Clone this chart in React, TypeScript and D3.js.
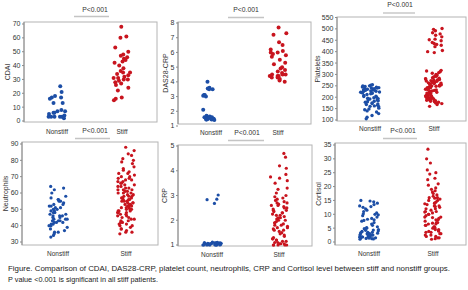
import React from "react";
import * as d3 from "d3";

// ---------- data ----------
const groups = ["Nonstiff", "Stiff"];

const cdaiNonstiff = [25, 21, 18, 17, 17, 16, 13, 13, 8, 7, 7, 6, 6, 5, 4, 3, 3, 3, 3, 3, 2];
const cdaiStiff = [68, 61, 60, 53, 50, 48, 47, 46, 45, 44, 43, 42, 40, 38, 36, 35, 35, 34, 33, 32, 31, 31, 30, 30, 29, 28, 27, 26, 24, 22, 17, 16, 15];
const cdaiTicks = [0, 10, 20, 30, 40, 50, 60, 70];

const dasNonstiff = [4.0, 3.6, 3.55, 3.5, 3.5, 3.1, 3.05, 3.0, 3.1, 2.1, 1.7, 1.65, 1.6, 1.6, 1.55, 1.5, 1.5, 1.45, 1.45, 1.4, 1.5, 1.6, 1.45];
const dasStiff = [7.7, 7.3, 7.2, 6.7, 6.5, 6.2, 6.1, 6.0, 6.0, 5.9, 5.8, 5.7, 5.5, 5.3, 5.2, 5.0, 4.9, 4.8, 4.7, 4.6, 4.5, 4.5, 4.5, 4.4, 4.4, 4.4, 4.3, 4.3, 4.2, 4.1, 4.0];
const dasTicks = [1, 2, 3, 4, 5, 6, 7, 8];

const pltNonstiff = [255, 253, 250, 249, 247, 245, 244, 242, 241, 240, 238, 237, 235, 234, 232, 231, 230, 228, 226, 225, 223, 222, 220, 219, 217, 215, 212, 208, 205, 203, 200, 198, 196, 194, 192, 190, 188, 185, 182, 180, 178, 175, 172, 170, 168, 165, 162, 160, 158, 152, 148, 145, 140, 135, 128, 120, 112, 105];
const pltStiff = [502, 498, 492, 483, 478, 472, 465, 455, 452, 448, 440, 436, 432, 428, 422, 405, 400, 396,
  318, 315, 312, 308, 305, 300, 298, 295, 292, 290, 288, 285, 283, 281, 280, 278, 276, 275, 273, 271, 270, 268, 266, 265, 263, 262, 260, 258, 257, 255, 254, 252, 250, 249, 248, 246, 245, 243, 242, 240, 238, 237, 235, 234, 232, 230, 228, 226, 225, 222, 220, 218, 215, 212, 210, 208, 206, 205, 203, 202, 200, 198, 197, 195, 193, 192, 190, 188, 187, 185, 183, 182, 180, 178, 175, 172, 168, 160];
const pltTicks = [100, 150, 200, 250, 300, 350, 400, 450, 500, 550];

const neuNonstiff = [64, 63, 62, 60, 58, 57, 56, 56, 55, 55, 54, 53, 53, 52, 52, 51, 51, 50, 50, 49, 49, 48, 48, 47, 47, 46, 46, 46, 45, 45, 44, 44, 44, 43, 43, 43, 42, 42, 42, 41, 41, 40, 40, 39, 38, 37, 36, 36, 35, 34, 33];
const neuStiff = [88, 86, 84, 83, 81, 80, 79, 78, 76, 75, 74, 73, 72, 72, 71, 70, 70, 69, 69, 68, 68, 67, 67, 66, 66, 65, 65, 64, 64, 63, 63, 62, 62, 62, 61, 61, 60, 60, 60, 59, 59, 58, 58, 58, 57, 57, 57, 56, 56, 56, 55, 55, 55, 54, 54, 54, 53, 53, 53, 52, 52, 52, 51, 51, 51, 50, 50, 50, 49, 49, 49, 48, 48, 48, 47, 47, 46, 46, 45, 45, 44, 44, 43, 43, 42, 42, 41, 41, 40, 40, 39, 38, 38, 37, 36, 36, 35];
const neuTicks = [30, 40, 50, 60, 70, 80, 90];

const crpNonstiff = [3.02, 2.85, 2.83, 2.68, 1.12, 1.11, 1.1, 1.1, 1.09, 1.09, 1.08, 1.08, 1.07, 1.07, 1.06, 1.06, 1.06, 1.05, 1.05, 1.05, 1.04, 1.04, 1.04, 1.03, 1.03, 1.03, 1.02, 1.02, 1.02, 1.01, 1.01, 1.01, 1.0, 1.0, 1.0, 1.0, 1.0, 1.0, 1.0, 1.0];
const crpStiff = [4.7, 4.55, 4.2, 4.1, 3.85, 3.75, 3.7, 3.6, 3.5, 3.3, 3.25, 3.1, 3.0, 2.95, 2.9, 2.85, 2.8, 2.75, 2.7, 2.7, 2.65, 2.6, 2.6, 2.55, 2.5, 2.5, 2.45, 2.4, 2.4, 2.35, 2.3, 2.3, 2.25, 2.2, 2.2, 2.15, 2.1, 2.1, 2.05, 2.0, 2.0, 1.95, 1.9, 1.9, 1.85, 1.8, 1.8, 1.75, 1.7, 1.7, 1.65, 1.6, 1.6, 1.55, 1.5, 1.45, 1.4, 1.35, 1.3, 1.25, 1.25, 1.2, 1.2, 1.15, 1.15, 1.1, 1.1, 1.05, 1.05, 1.05, 1.0, 1.0, 1.0, 1.0, 1.0];
const crpTicks = [1, 2, 3, 4, 5];

const corNonstiff = [15, 14.8, 14.5, 14, 13.5, 13, 12.8, 12.5, 12, 11.5, 11, 10.5, 10.2, 10, 9.8, 9.5, 9, 8.5, 8.2, 8, 7.8, 7.5, 7, 6.5, 6, 5.5, 5.2, 5, 4.8, 4.5, 4.3, 4.2, 4, 3.8, 3.6, 3.5, 3.5, 3.3, 3.2, 3, 3, 2.8, 2.7, 2.6, 2.5, 2.5, 2.3, 2.2, 2, 2, 1.9, 1.8, 1.8, 1.7, 1.6, 1.5, 1.5, 1.4, 1.3, 1.2, 1.1, 1.0];
const corStiff = [33.5, 30, 28.5, 26, 25, 24.5, 23, 22.5, 21, 20.5, 19.5, 19, 18.5, 18, 17.5, 17, 16.5, 16, 16, 15.8, 15.5, 15, 15, 14.5, 14, 14, 13.8, 13.5, 13, 13, 12.8, 12.5, 12, 12, 11.5, 11, 11, 10.8, 10.5, 10, 10, 9.5, 9, 9, 8.8, 8.5, 8, 8, 7.5, 7, 7, 6.8, 6.5, 6.5, 6, 6, 5.5, 5.5, 5.2, 5, 5, 4.5, 4.5, 4, 4, 3.8, 3.5, 3.5, 3, 3, 2.5, 2.5, 2, 2, 1.5, 1.5, 1.2, 1.0];
const corTicks = [0, 5, 10, 15, 20, 25, 30, 35];

const pLabel = "P<0.001";
const captionLines = [
  "Figure.  Comparison of CDAI, DAS28-CRP, platelet count, neutrophils, CRP and Cortisol level between stiff and nonstiff groups.",
  "P value  <0.001 is significant in all stiff patients.",
];

// ---------- layout ----------
type Panel = {
  title: string;
  nonstiff: number[];
  stiff: number[];
  ticks: number[];
  box: [number, number, number, number];
  yPix: [number, number];
  centers: [number, number];
  pText: [number, number];
  pLine: [number, number, number];
  titleX: number;
  labelY: number;
  r: number;
};

const panels: Panel[] = [
  { title: "CDAI", nonstiff: cdaiNonstiff, stiff: cdaiStiff, ticks: cdaiTicks, box: [24, 157, 22, 122], yPix: [121, 24], centers: [57, 122], pText: [95, 13], pLine: [74, 109, 16.5], titleX: 8, labelY: 132, r: 2 },
  { title: "DAS28-CRP", nonstiff: dasNonstiff, stiff: dasStiff, ticks: dasTicks, box: [178, 311, 22, 124], yPix: [126, 23], centers: [211, 278], pText: [246, 13], pLine: [228, 264, 17.5], titleX: 166, labelY: 133, r: 2 },
  { title: "Platelets", nonstiff: pltNonstiff, stiff: pltStiff, ticks: pltTicks, box: [337, 466, 17, 121], yPix: [120, 17.5], centers: [370, 434], pText: [400, 8], pLine: [383, 415, 13], titleX: 318, labelY: 129, r: 1.7 },
  { title: "Neutrophils", nonstiff: neuNonstiff, stiff: neuStiff, ticks: neuTicks, box: [22, 158, 142, 245], yPix: [242, 144], centers: [58, 126], pText: [95, 134], pLine: [75, 110, 138.5], titleX: 6, labelY: 254, r: 1.6 },
  { title: "CRP", nonstiff: crpNonstiff, stiff: crpStiff, ticks: crpTicks, box: [178, 312, 145, 246], yPix: [245, 146], centers: [212, 279], pText: [247, 136], pLine: [228, 264, 140.5], titleX: 165, labelY: 255, r: 1.6 },
  { title: "Cortisol", nonstiff: corNonstiff, stiff: corStiff, ticks: corTicks, box: [335, 466, 143, 245], yPix: [242, 145], centers: [369, 433], pText: [403, 134], pLine: [383, 417, 138.5], titleX: 319, labelY: 254, r: 1.6 },
];

const BLUE = "#1c4ea6";
const RED = "#c8141e";
const FONT = "Liberation Sans, Arial, sans-serif";

// deterministic jitter (layout only)
function jitter(i: number, half: number, seed: number) {
  const s = Math.sin((i + 1) * 12.9898 + seed * 78.233) * 43758.5453;
  const f = s - Math.floor(s);
  return (f - 0.5) * 2 * half;
}

function PanelView({ p, pi }: { p: Panel; pi: number }) {
  const [x0, x1, y0, y1] = p.box;
  const y = d3
    .scaleLinear()
    .domain([p.ticks[0], p.ticks[p.ticks.length - 1]])
    .range(p.yPix);
  const midY = (y0 + y1) / 2;
  return (
    <g>
      <rect x={x0} y={y0} width={x1 - x0} height={y1 - y0} fill="none" stroke="#b4b4b4" strokeWidth={1} />
      <line x1={x0} x2={x0} y1={y0} y2={y1} stroke="#8c8c8c" strokeWidth={1} />
      {p.ticks.map((t) => (
        <g key={t}>
          <line x1={x0 - 2} x2={x0} y1={y(t)} y2={y(t)} stroke="#8c8c8c" />
          <text x={x0 - 3.5} y={y(t)} dy="0.35em" textAnchor="end" fontSize={7} fill="#333" fontFamily={FONT}>
            {t}
          </text>
        </g>
      ))}
      <text
        transform={`translate(${p.titleX},${midY}) rotate(-90)`}
        textAnchor="middle"
        dy="0.35em"
        fontSize={7}
        fill="#333"
        fontFamily={FONT}
      >
        {p.title}
      </text>
      {[p.nonstiff, p.stiff].map((vals, gi) =>
        vals.map((v, i) => (
          <circle
            key={`${gi}-${i}`}
            cx={p.centers[gi] + jitter(i, gi === 0 ? 9.5 : 8.5, pi * 2 + gi + 0.37)}
            cy={y(v)}
            r={p.r}
            fill={gi === 0 ? BLUE : RED}
          />
        ))
      )}
      {groups.map((g, gi) => (
        <text key={g} x={p.centers[gi]} y={p.labelY} dy="0.35em" textAnchor="middle" fontSize={6.5} fill="#333" fontFamily={FONT}>
          {g}
        </text>
      ))}
      <text x={p.pText[0]} y={p.pText[1]} dy="-0.1em" textAnchor="middle" fontSize={6.8} fill="#333" fontFamily={FONT}>
        {pLabel}
      </text>
      <line x1={p.pLine[0]} x2={p.pLine[1]} y1={p.pLine[2]} y2={p.pLine[2]} stroke="#c4c4c4" strokeWidth={1.4} />
    </g>
  );
}

export default function App() {
  return (
    <svg width={468} height={290} style={{ position: "absolute", left: 0, top: 0, background: "#fff" }}>
      <rect width={468} height={290} fill="#fff" />
      {panels.map((p, pi) => (
        <PanelView key={p.title} p={p} pi={pi} />
      ))}
      <text x={8} y={271} fontSize={7} fill="#222" fontFamily={FONT} textLength={442} lengthAdjust="spacingAndGlyphs">
        {captionLines[0]}
      </text>
      <text x={8} y={282} fontSize={7} fill="#222" fontFamily={FONT} textLength={150} lengthAdjust="spacingAndGlyphs">
        {captionLines[1]}
      </text>
    </svg>
  );
}
